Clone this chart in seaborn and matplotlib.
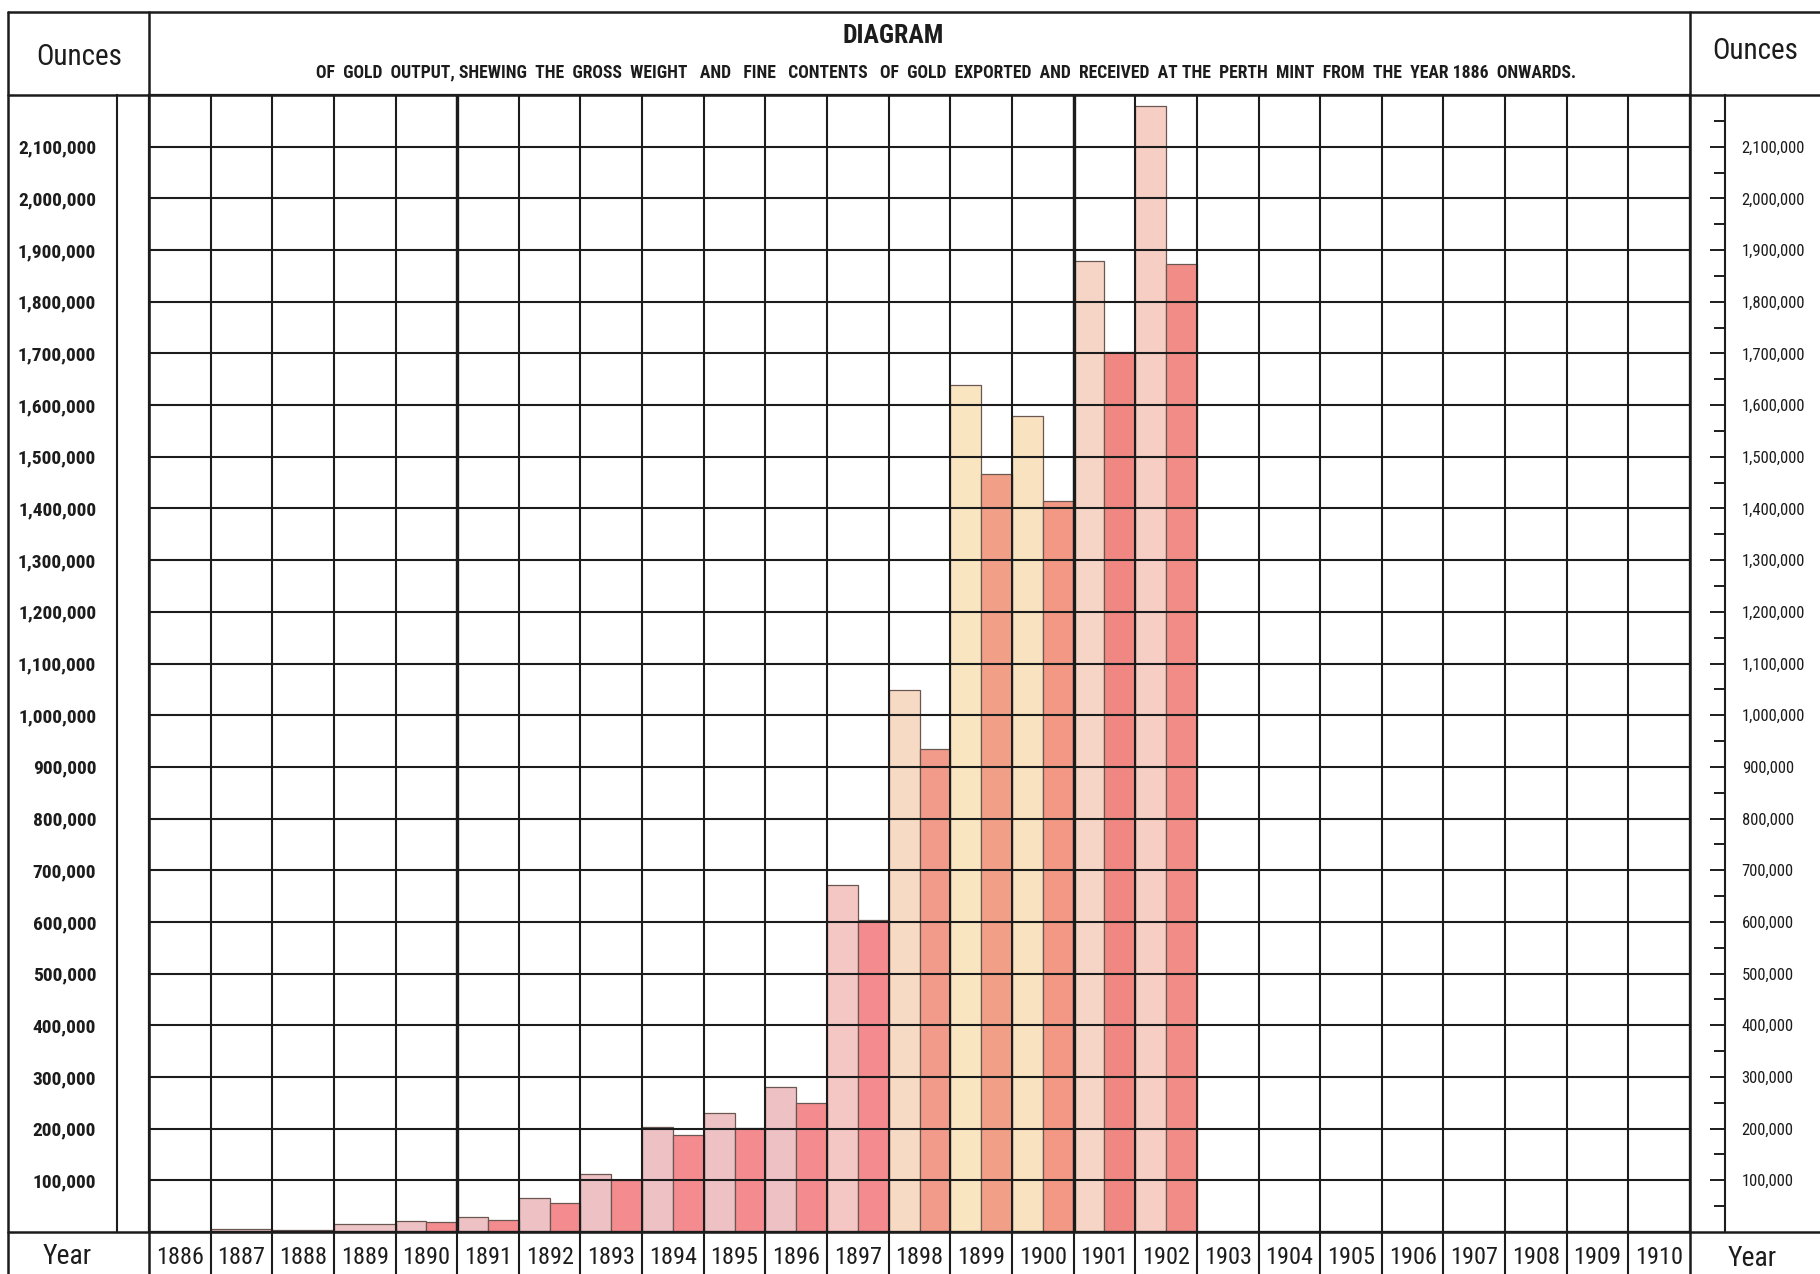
import numpy as np
import pandas as pd
import matplotlib
matplotlib.use("Agg")
import matplotlib.pyplot as plt
import seaborn as sns
from matplotlib.ticker import FixedLocator, FuncFormatter

# ----------------------------------------
# Data (ounces)
# ----------------------------------------
years = [str(y) for y in range(1886, 1911)]
gross_oz = [300, 4900, 3100, 16000, 22000, 29000, 65000, 112000, 203000,
            231000, 281000, 672000, 1049000, 1639000, 1578000, 1878000, 2179000]
fine_oz = [None, None, None, None, 19000, 23000, 56000, 101000, 188000,
           202000, 249000, 604000, 935000, 1466000, 1414000, 1702000, 1873000]
y_ticks = list(range(100000, 2100001, 100000))

# long table for the paired years, plain table for the early single bars
rows = []
for yr, g, f in zip(years, gross_oz, fine_oz):
    if f is not None:
        rows.append((yr, "Gross weight", g))
        rows.append((yr, "Fine contents", f))
df_pair = pd.DataFrame(rows, columns=["year", "kind", "ounces"])
df_early = pd.DataFrame({"year": [y for y, f in zip(years, fine_oz) if f is None],
                         "ounces": [g for g, f in zip(gross_oz, fine_oz) if f is None]})

# colours of the old print
gross_colors = ["#edc5c6"] * 4 + ["#eec1c4"] * 7 + ["#f5c7c4", "#f7dac3", "#f9e5c0",
                                                   "#f8e2bf", "#f7d5c6", "#f6cec4"]
fine_colors = [None] * 4 + ["#f48b8e"] * 8 + ["#f29b8a", "#f29f88", "#f29885",
                                              "#f08782", "#f18c87"]
line_c = "#1c1c1c"

W, H = 1820, 1274
sns.set_style("white")
plt.rcParams["font.family"] = ["Roboto Condensed", "DejaVu Sans"]
plt.rcParams["font.stretch"] = "condensed"

fig = plt.figure(figsize=(W / 100, H / 100), dpi=100)
fig.patch.set_facecolor("white")

left, right, top, base = 149, 1690, 95, 1232
bottom_f = (H - base) / H
height_f = (base - top) / H
ax = fig.add_axes([left / W, bottom_f, (right - left) / W, height_f])

bar_kw = dict(edgecolor="#6a5752", linewidth=0.9, errorbar=None)
sns.barplot(data=df_pair, x="year", y="ounces", hue="kind",
            hue_order=["Gross weight", "Fine contents"], order=years,
            palette=["#f4cdc4", "#f48b8e"], width=1.0, gap=0, dodge=True,
            legend=False, ax=ax, **bar_kw)
sns.barplot(data=df_early, x="year", y="ounces", order=years,
            color="#edc5c6", width=1.0, ax=ax, **bar_kw)

# per-year tints
for p in ax.patches:
    cx = p.get_x() + p.get_width() / 2
    idx = int(round(cx))
    if p.get_width() > 0.75 or cx < idx:
        p.set_facecolor(gross_colors[idx])
    else:
        p.set_facecolor(fine_colors[idx])

ax.set_xlim(-0.5, len(years) - 0.5)
ax.set_ylim(0, 2200000)
ax.set_xlabel("")
ax.set_ylabel("")
ax.set_yticks(list(range(0, 2200001, 100000)))
ax.tick_params(axis="y", length=0, labelleft=False)
ax.set_xticks(range(len(years)))
ax.set_xticklabels(years)
ax.tick_params(axis="x", length=0, pad=10, labelsize=17.5, colors=line_c)
ax.set_xticks(np.arange(-0.5, len(years), 1), minor=True)
ax.tick_params(axis="x", which="minor", length=0)
ax.grid(False)
ax.grid(axis="y", which="major", color=line_c, linewidth=1.5)
ax.grid(axis="x", which="minor", color=line_c, linewidth=1.5)
ax.set_axisbelow(False)
for b in [4.5, 14.5]:
    ax.axvline(b, color=line_c, linewidth=2.4, zorder=3)
for s in ax.spines.values():
    s.set_color(line_c)
    s.set_linewidth(1.6)

# separators in the year row
ax.vlines(np.arange(0.5, len(years) - 1, 1), -0.05, 0, transform=ax.get_xaxis_transform(),
          color=line_c, linewidth=1.5, clip_on=False)

fmt = FuncFormatter(lambda v, _: f"{int(v):,}")

# left scale
axL = fig.add_axes([117 / W, bottom_f, 0.0005, height_f])
axL.set_ylim(0, 2200000)
axL.set_xticks([])
axL.patch.set_alpha(0)
for k in ["top", "right", "bottom"]:
    axL.spines[k].set_visible(False)
axL.spines["left"].set_color(line_c)
axL.spines["left"].set_linewidth(1.5)
axL.yaxis.set_major_locator(FixedLocator(y_ticks))
axL.yaxis.set_minor_locator(FixedLocator([v + 50000 for v in [0] + y_ticks]))
axL.yaxis.set_major_formatter(fmt)
axL.tick_params(axis="y", which="major", direction="in", length=13, width=1.4,
                pad=15, labelsize=14, colors=line_c)
axL.tick_params(axis="y", which="minor", direction="in", length=8, width=1.4, colors=line_c)
for t in axL.get_yticklabels():
    t.set_fontweight("bold")

# right scale
axR = fig.add_axes([1725 / W - 0.0005, bottom_f, 0.0005, height_f])
axR.set_ylim(0, 2200000)
axR.set_xticks([])
axR.patch.set_alpha(0)
for k in ["top", "left", "bottom"]:
    axR.spines[k].set_visible(False)
axR.spines["right"].set_color(line_c)
axR.spines["right"].set_linewidth(1.5)
axR.yaxis.tick_right()
axR.yaxis.set_major_locator(FixedLocator(y_ticks))
axR.yaxis.set_minor_locator(FixedLocator([v + 50000 for v in [0] + y_ticks]))
axR.yaxis.set_major_formatter(fmt)
axR.tick_params(axis="y", which="major", direction="in", length=11, width=1.4,
                pad=12, labelsize=12, colors=line_c)
axR.tick_params(axis="y", which="minor", direction="in", length=8, width=1.4, colors=line_c)

# frame of the sheet, in pixel coordinates
frame = fig.add_axes([0, 0, 1, 1])
frame.set_xlim(0, W)
frame.set_ylim(H, 0)
frame.axis("off")
frame.patch.set_alpha(0)
frame.plot([8, W], [12, 12], color=line_c, lw=1.8)
frame.plot([8, W], [top, top], color=line_c, lw=1.8)
frame.plot([8, W], [base, base], color=line_c, lw=1.8)
frame.plot([8, 8], [12, H], color=line_c, lw=1.8)
frame.plot([left, left], [12, H], color=line_c, lw=1.8)
frame.plot([right, right], [12, H], color=line_c, lw=1.8)

frame.text(79, 57, "Ounces", ha="center", va="center", fontsize=21, color=line_c)
frame.text(1755, 51, "Ounces", ha="center", va="center", fontsize=21, color=line_c)
frame.text(67, 1256, "Year", ha="center", va="center", fontsize=20, color=line_c)
frame.text(1752, 1258, "Year", ha="center", va="center", fontsize=20, color=line_c)
frame.text(893, 36, "DIAGRAM", ha="center", va="center", fontsize=18.5,
           fontweight="bold", color=line_c)
frame.text(946, 72, "OF  GOLD  OUTPUT, SHEWING  THE  GROSS  WEIGHT   AND   FINE   CONTENTS   OF  GOLD"
           "  EXPORTED  AND  RECEIVED  AT THE  PERTH  MINT  FROM  THE  YEAR 1886  ONWARDS.",
           ha="center", va="center", fontsize=12.7, fontweight="bold", color=line_c)

fig.savefig("out.png", dpi=100, facecolor="white")
